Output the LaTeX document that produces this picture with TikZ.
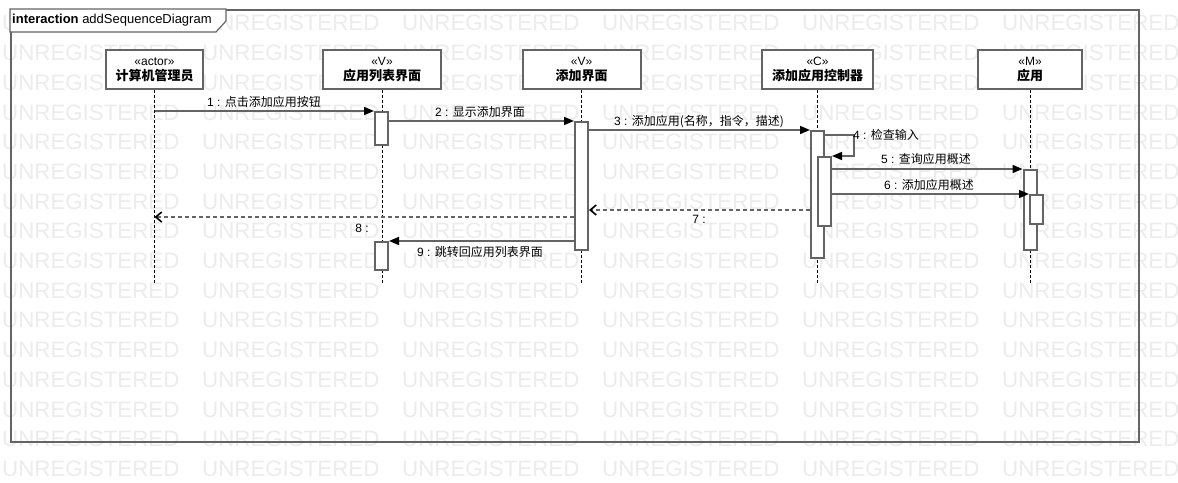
\documentclass[tikz,border=0pt]{standalone}
\usepackage{fontspec}
\setmainfont{Liberation Sans}
\newfontfamily\cjk{Noto Sans CJK SC}
\usetikzlibrary{arrows.meta,calc}
\definecolor{linegray}{RGB}{100,100,100}
\definecolor{wmgray}{RGB}{236,236,236}
\begin{document}
\begin{tikzpicture}[x=1pt,y=-1pt,
  wm/.style={anchor=west,inner sep=0pt,text=wmgray,font=\fontsize{22.3}{24}\selectfont},
  framebox/.style={draw=linegray,line width=2pt},
  head/.style={draw=linegray,line width=2pt,fill=white,minimum height=39pt,inner sep=0pt,align=center,font=\fontsize{12}{15}\selectfont},
  headname/.style={},
  life/.style={draw=black,line width=0.9pt,dash pattern=on 3pt off 2pt},
  bar/.style={draw=linegray,line width=2pt,fill=white,minimum width=13pt,inner sep=0pt},
  msg/.style={draw=linegray,line width=1.6pt,-{Triangle[length=10pt,width=8pt,black]}},
  ret/.style={draw=linegray,line width=1.6pt,dash pattern=on 4pt off 3pt,-{Straight Barb[length=6pt,width=10pt,black]}},
  lbl/.style={inner sep=0pt,font=\fontsize{12}{14}\selectfont,text=black},
]
\useasboundingbox (0,0) rectangle (1178,482);
\fill[white] (0,0) rectangle (1178,482);
% watermark
\foreach \j in {0,...,15}{
  \foreach \i in {0,...,5}{
    \node[wm] (wm-\i-\j) at ({2+200*\i},{23.3+29.7*\j}) {UNREGISTERED};
  }
}
% frame
\node[framebox,minimum width=1128pt,minimum height=432pt,anchor=north west,inner sep=0pt] (frame) at (10,9) {};
\draw[draw=linegray,line width=1.2pt,fill=white] (frame.north west) -- (226,9) -- (226,21) -- (216,32) -- (10,32) -- cycle;
\node[anchor=west,inner sep=0pt,font=\fontsize{13}{15}\selectfont] (title) at (12,20.5) {\textbf{interaction} addSequenceDiagram};
% heads
\node[head,minimum width=97pt] (a) at (154.5,69.5) {«actor»\\{\fontsize{13}{15}\selectfont\bfseries\cjk 计算机管理员}};
\node[head,minimum width=118pt] (lv) at (382,69.5) {«V»\\{\fontsize{13}{15}\selectfont\bfseries\cjk 应用列表界面}};
\node[head,minimum width=118pt] (av) at (581.5,69.5) {«V»\\{\fontsize{13}{15}\selectfont\bfseries\cjk 添加界面}};
\node[head,minimum width=111pt] (cc) at (817.5,69.5) {«C»\\{\fontsize{13}{15}\selectfont\bfseries\cjk 添加应用控制器}};
\node[head,minimum width=104pt] (mm) at (1030,69.5) {«M»\\{\fontsize{13}{15}\selectfont\bfseries\cjk 应用}};
% lifelines
\coordinate (lifeend) at (0,284);
\draw[life] (a.south) -- (a.south |- lifeend);
\draw[life] (lv.south) -- (lv.south |- lifeend);
\draw[life] (av.south) -- (av.south |- lifeend);
\draw[life] (cc.south) -- (cc.south |- lifeend);
\draw[life] (mm.south) -- (mm.south |- lifeend);
% activation bars
\node[bar,minimum height=33pt] (b1) at (381.5,128.5) {};
\node[bar,minimum height=28pt] (b7) at (381.5,256) {};
\node[bar,minimum height=128pt] (b2) at (581.5,186) {};
\node[bar,minimum height=127pt] (b3) at (817.5,194.5) {};
\node[bar,minimum height=69pt] (b4) at (824.5,191.5) {};
\node[bar,minimum height=80pt] (b5) at (1030,210) {};
\node[bar,minimum height=29pt] (b6) at (1036.5,209.5) {};
% messages
\draw[msg] (a.south |- b1.north) -- (b1.north west);
\draw[msg] (b1.east |- b2.north) -- (b2.north west);
\draw[msg] (b2.east |- b3.north) -- (b3.north west);
\coordinate (s4) at ($(b3.north east)+(0,5)$);
\draw[msg] (s4) -- ++(29,0) |- (b4.north east);
\draw[msg] (b4.east |- b5.north) -- (b5.north west);
\draw[msg] (b4.east |- b6.north) -- (b6.north west);
\coordinate (y7) at (0,210);
\coordinate (y8) at (0,217);
\draw[ret] (b3.west |- y7) -- (b2.east |- y7);
\draw[ret] (b2.west |- y8) -- (a.south |- y8);
\draw[msg] (b2.west |- b7.north) -- (b7.north east);
% labels
\node[lbl] (l1) at (264,102) {1 : {\cjk 点击添加应用按钮}};
\node[lbl] (l2) at (480,112) {2 : {\cjk 显示添加界面}};
\node[lbl] (l3) at (699,122) {3 : {\cjk 添加应用(名称，指令，描述)}};
\node[lbl,anchor=west] (l4) at (853,135) {4 : {\cjk 检查输入}};
\node[lbl] (l5) at (926,159) {5 : {\cjk 查询应用概述}};
\node[lbl] (l6) at (929,185) {6 : {\cjk 添加应用概述}};
\node[lbl] (l7) at (699,219) {7 :};
\node[lbl] (l8) at (362,228) {8 :};
\node[lbl] (l9) at (480,252) {9 : {\cjk 跳转回应用列表界面}};
\end{tikzpicture}
\end{document}
